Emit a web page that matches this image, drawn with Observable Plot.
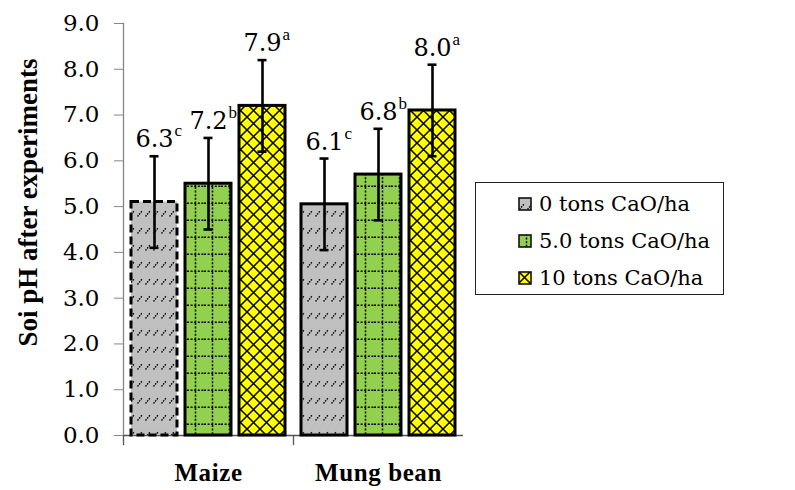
<!DOCTYPE html>
<html>
<head>
<meta charset="utf-8">
<script src="https://cdn.jsdelivr.net/npm/d3@7"></script>
<script src="https://cdn.jsdelivr.net/npm/@observablehq/plot@0.6"></script>
<style>
  html, body { margin: 0; padding: 0; background: #fff; overflow: hidden; }
  #wrap { position: relative; width: 795px; height: 490px; }
  #legend {
    position: absolute; left: 475px; top: 182px; width: 249px; height: 113px;
    box-sizing: border-box; border: 1px solid #222; background: #fff;
    font-family: "DejaVu Serif", serif; font-size: 21px; color: #000;
  }
  #legend .item { position: absolute; left: 42px; height: 30px; display: flex; align-items: center; white-space: nowrap; }
  #legend .item svg { margin-right: 7px; flex: none; }
  g[aria-label="fx-axis tick label"] text { letter-spacing: 0.6px; }
</style>
</head>
<body>
<svg width="0" height="0" style="position:absolute">
  <defs>
    <pattern id="patGray" patternUnits="userSpaceOnUse" width="8" height="17">
      <rect width="8" height="17" fill="#c0c0c0"/>
      <path d="M1.5,12.5 L6.5,6.5" stroke="#111" stroke-width="1.4" stroke-dasharray="1.6,1"/>
    </pattern>
    <pattern id="patGreen" patternUnits="userSpaceOnUse" width="17" height="17">
      <rect width="17" height="17" fill="#92d050"/>
      <path d="M0,16.2 H17 M8.5,0 V17" stroke="#000" stroke-width="1.5" stroke-dasharray="2,1.6"/>
    </pattern>
    <pattern id="patYellow" patternUnits="userSpaceOnUse" width="13" height="13">
      <rect width="13" height="13" fill="#ffff00"/>
      <path d="M-1,-1 L14,14 M14,-1 L-1,14" stroke="#000" stroke-width="1.5"/>
    </pattern>
  </defs>
</svg>
<div id="wrap">
  <div id="legend"></div>
</div>
<script>
// ---- data ----
const categories = ["Maize", "Mung bean"];
const spacerCategories = ["spacer-1", "spacer-2"];
const series = ["0 tons CaO/ha", "5.0 tons CaO/ha", "10 tons CaO/ha"];
const maizeMeans = [5.1, 5.5, 7.2];
const mungMeans = [5.05, 5.7, 7.1];
const maizeErr = [1.0, 1.0, 1.0];
const mungErr = [1.0, 1.0, 1.0];
const maizeLabels = ["6.3", "7.2", "7.9"];
const mungLabels = ["6.1", "6.8", "8.0"];
const maizeLetters = ["c", "b", "a"];
const mungLetters = ["c", "b", "a"];
const yTicks = [0, 1, 2, 3, 4, 5, 6, 7, 8, 9];
const yTitle = "Soi pH after experiments";

// ---- table built from the arrays ----
const means = [maizeMeans, mungMeans];
const errs = [maizeErr, mungErr];
const labels = [maizeLabels, mungLabels];
const letters = [maizeLetters, mungLetters];
const rows = [];
categories.forEach((c, ci) => series.forEach((s, si) => rows.push({
  category: c, series: s, mean: means[ci][si], err: errs[ci][si],
  label: labels[ci][si], letter: letters[ci][si]
})));

// ---- styles ----
const fills = ["url(#patGray)", "url(#patGreen)", "url(#patYellow)"];
const serifBold = '"Liberation Serif", serif';
const serifRegular = '"DejaVu Serif", serif';
const W = 795, H = 490, mt = 23, mb = 55, ml = 123, mr = -8;
const plotH = H - mt - mb;
const pos = {fx: "category", x: "series"};

const plot = Plot.plot({
  width: W, height: H,
  marginTop: mt, marginBottom: mb, marginLeft: ml, marginRight: mr,
  style: {fontFamily: serifBold, fontSize: "20px", background: "transparent", color: "#000", overflow: "visible"},
  fx: {domain: [...categories, ...spacerCategories], padding: 0, label: null},
  x: {domain: series, paddingInner: 0.145, paddingOuter: 0.12, axis: null},
  y: {domain: [0, 9], axis: null},
  marks: [
    Plot.frame({anchor: "left", stroke: "#555", strokeWidth: 1.3, insetTop: plotH, insetBottom: -9}),
    Plot.frame({anchor: "left", facet: "super", stroke: "#868686", strokeWidth: 1.3}),
    Plot.ruleY([0], {stroke: "#555", strokeWidth: 1.5}),
    Plot.axisY({ticks: yTicks, tickFormat: d3.format(".1f"), tickSize: 9, tickPadding: 15,
      stroke: "#868686", fill: "#000", fontSize: 23, fontFamily: serifRegular, label: null}),
    Plot.axisFx({anchor: "bottom", tickSize: 0, tickPadding: 28, fontSize: 25, fontWeight: "bold",
      fill: "#000", label: null, tickFormat: d => categories.includes(d) ? d : ""}),
    ...series.map((s, i) => Plot.barY(rows, {
      ...pos, y: "mean", fill: fills[i], stroke: "#000", strokeWidth: 3,
      filter: d => d.series === s && !(i === 0 && d.category === categories[0])
    })),
    Plot.barY(rows, {
      ...pos, y: "mean", fill: fills[0], stroke: "#000", strokeWidth: 3, strokeDasharray: "8,4",
      filter: d => d.series === series[0] && d.category === categories[0]
    }),
    Plot.ruleX(rows, {...pos, y1: d => d.mean - d.err, y2: d => d.mean + d.err, stroke: "#000", strokeWidth: 2.6}),
    Plot.tickY(rows, {...pos, y: d => d.mean + d.err, stroke: "#000", strokeWidth: 2.6, insetLeft: 18.5, insetRight: 18.5}),
    Plot.tickY(rows, {...pos, y: d => d.mean - d.err, stroke: "#000", strokeWidth: 2.6, insetLeft: 18.5, insetRight: 18.5}),
    Plot.text(rows, {...pos, y: d => d.mean + d.err, text: "label", dy: -9, lineAnchor: "bottom",
      fontSize: 24, fontFamily: serifRegular, fill: "#000"}),
    Plot.text(rows, {...pos, y: d => d.mean + d.err, text: "letter", dx: 20, dy: -20, lineAnchor: "bottom",
      textAnchor: "start", fontSize: 17, fill: "#000"}),
    Plot.text([yTitle], {text: d => d, facet: "super", frameAnchor: "left", textAnchor: "middle", rotate: -90, dx: -95, dy: -27,
      fontSize: 27, fontWeight: "bold", fill: "#000"})
  ]
});
const wrap = document.getElementById("wrap");
wrap.insertBefore(plot, wrap.firstChild);

// ---- legend ----
const legend = document.getElementById("legend");
const rowTops = [6, 43, 80];
series.forEach((s, i) => {
  const item = document.createElement("div");
  item.className = "item";
  item.style.top = rowTops[i] + "px";
  item.innerHTML = `<svg width="14" height="14"><rect x="1" y="1" width="12" height="12" fill="${fills[i]}" stroke="#111" stroke-width="1.6"/></svg><span>${s}</span>`;
  legend.appendChild(item);
});
</script>
</body>
</html>
